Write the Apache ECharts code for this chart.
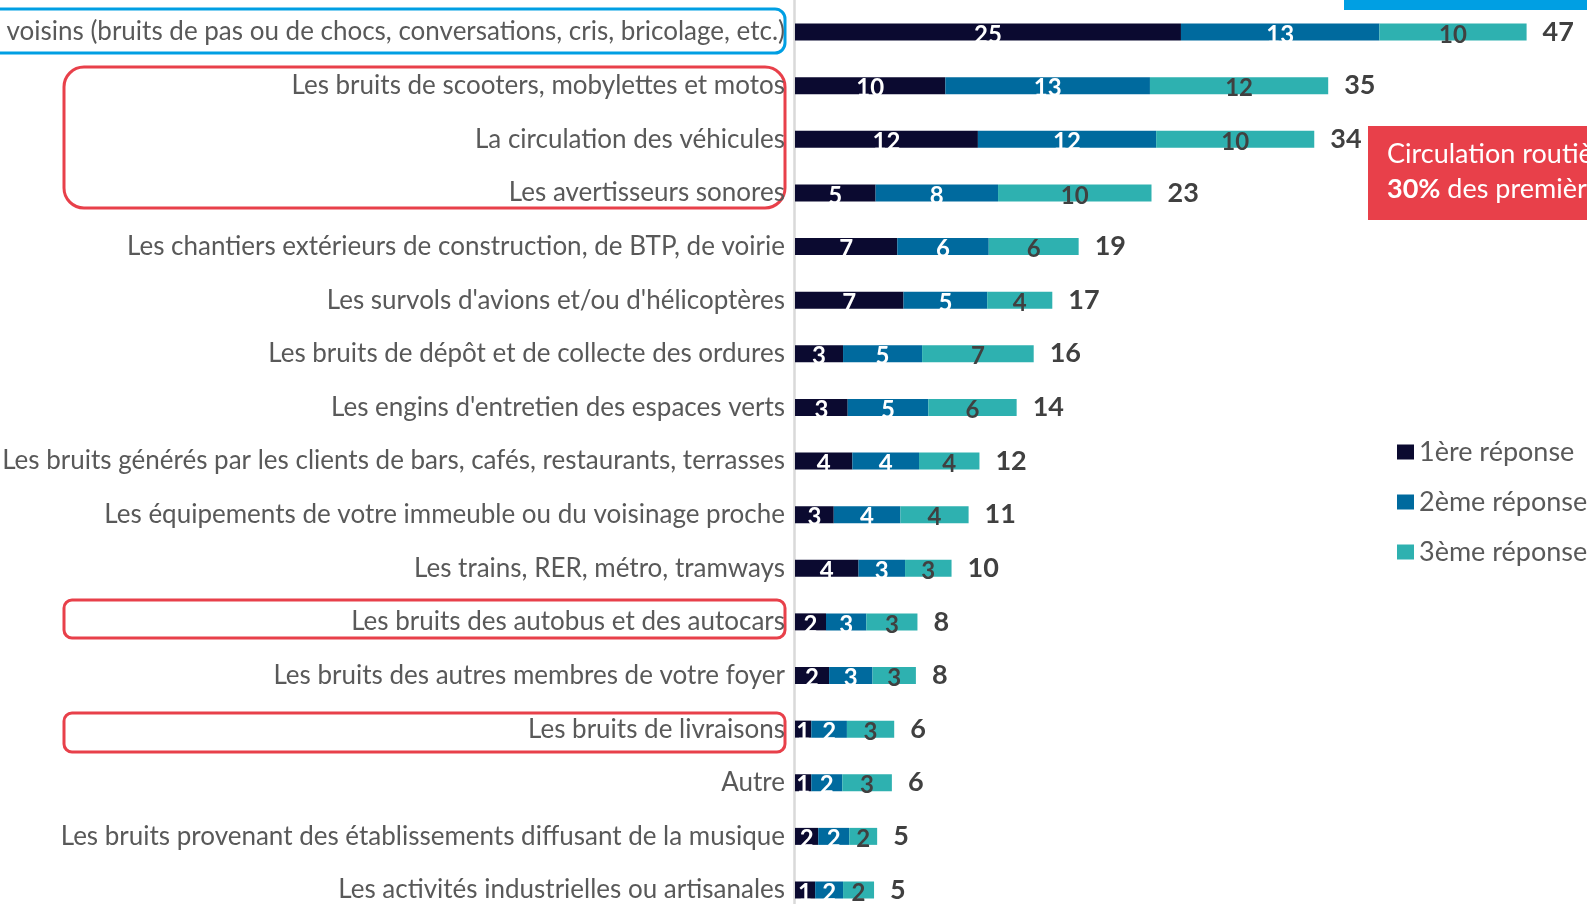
<!DOCTYPE html>
<html><head><meta charset="utf-8">
<script src="https://cdn.jsdelivr.net/npm/echarts@6/dist/echarts.min.js"></script>
<style>html,body{margin:0;padding:0;background:#fff;overflow:hidden}#chart{width:1587px;height:904px;}</style>
</head><body><div id="chart"></div>
<script>
const categories = [
  "Les voisins (bruits de pas ou de chocs, conversations, cris, bricolage, etc.)",
  "Les bruits de scooters, mobylettes et motos",
  "La circulation des véhicules",
  "Les avertisseurs sonores",
  "Les chantiers extérieurs de construction, de BTP, de voirie",
  "Les survols d'avions et/ou d'hélicoptères",
  "Les bruits de dépôt et de collecte des ordures",
  "Les engins d'entretien des espaces verts",
  "Les bruits générés par les clients de bars, cafés, restaurants, terrasses",
  "Les équipements de votre immeuble ou du voisinage proche",
  "Les trains, RER, métro, tramways",
  "Les bruits des autobus et des autocars",
  "Les bruits des autres membres de votre foyer",
  "Les bruits de livraisons",
  "Autre",
  "Les bruits provenant des établissements diffusant de la musique",
  "Les activités industrielles ou artisanales"
];
const seriesNames = ["1ère réponse", "2ème réponse", "3ème réponse"];
const first  = [24.9, 9.7, 11.8, 5.2, 6.6, 7.0, 3.1, 3.4, 3.7, 2.5, 4.1, 2.0, 2.2, 1.05, 1.05, 1.5, 1.3];
const second = [12.8, 13.2, 11.5, 7.9, 5.9, 5.4, 5.1, 5.2, 4.3, 4.3, 3.0, 2.6, 2.8, 2.3, 2.0, 2.0, 1.8];
const third  = [9.5, 11.5, 10.2, 9.9, 5.8, 4.2, 7.2, 5.7, 3.9, 4.4, 3.0, 3.3, 2.8, 3.05, 3.2, 1.8, 2.0];
const totals = [47, 35, 34, 23, 19, 17, 16, 14, 12, 11, 10, 8, 8, 6, 6, 5, 5];

const colors = ["#0b0a30", "#006a9e", "#2eb1b0"];
const FONT = "Lato";

const chart = echarts.init(document.getElementById('chart'), null, {renderer: 'canvas'});

function segSeries(name, data, color, labelColor) {
  return {
    name: name, type: 'bar', stack: 'all', data: data, barWidth: 17,
    itemStyle: {color: color},
    label: {
      show: true, position: 'inside', offset: [0, 3],
      formatter: p => String(Math.round(p.value)),
      color: labelColor, fontFamily: FONT, fontWeight: 'bold', fontSize: 24
    }
  };
}

chart.setOption({
  animation: false,
  backgroundColor: '#ffffff',
  color: colors,
  grid: {left: 795, right: 17, top: 32, height: 858, containLabel: false, outerBoundsMode: 'none'},
  xAxis: {type: 'value', min: 0, max: 50, show: false},
  yAxis: {
    type: 'category', data: categories, inverse: true, boundaryGap: false,
    axisTick: {show: false},
    axisLine: {show: false},
    axisLabel: {color: '#595959', fontFamily: FONT, fontSize: 26, margin: 10}
  },
  legend: {
    data: seriesNames, orient: 'vertical', left: 1392, top: 432,
    itemWidth: 17, itemHeight: 15, itemGap: 20, icon: 'rect',
    textStyle: {color: '#595959', fontFamily: FONT, fontSize: 27, lineHeight: 30}
  },
  series: [
    segSeries(seriesNames[0], first, colors[0], '#ffffff'),
    segSeries(seriesNames[1], second, colors[1], '#ffffff'),
    segSeries(seriesNames[2], third, colors[2], '#404040'),
    {
      name: 'Total', type: 'bar', stack: 'all', barWidth: 17,
      data: totals.map(() => 0),
      itemStyle: {color: 'rgba(0,0,0,0)'},
      label: {
        show: true, position: 'right', distance: 16,
        formatter: p => String(totals[p.dataIndex]),
        color: '#404040', fontFamily: FONT, fontWeight: 'bold', fontSize: 27
      }
    }
  ],
  graphic: [
    {type: 'line', shape: {x1: 794.5, y1: 0, x2: 794.5, y2: 904}, style: {stroke: '#d9d9d9', lineWidth: 2.5}, z: 0},
    {type: 'rect', shape: {x: 1344, y: -6, width: 260, height: 16}, style: {fill: '#009fe3'}},
    {type: 'rect', shape: {x: -20, y: 9, width: 805, height: 44, r: 10}, style: {fill: 'none', stroke: '#009fe3', lineWidth: 3}},
    {type: 'rect', shape: {x: 64, y: 67, width: 721, height: 141, r: 20}, style: {fill: 'none', stroke: '#e8404a', lineWidth: 3}},
    {type: 'rect', shape: {x: 64, y: 600, width: 721, height: 38, r: 8}, style: {fill: 'none', stroke: '#e8404a', lineWidth: 3}},
    {type: 'rect', shape: {x: 64, y: 713, width: 721, height: 39, r: 8}, style: {fill: 'none', stroke: '#e8404a', lineWidth: 3}},
    {type: 'rect', shape: {x: 1368, y: 126, width: 240, height: 94}, style: {fill: '#e8404a'}},
    {type: 'text', x: 1387, y: 154, style: {text: 'Circulation routière :', fill: '#ffffff', font: '27px Lato', verticalAlign: 'middle'}},
    {type: 'text', x: 1387, y: 189, style: {text: '{b|30%} des premières réponses', fill: '#ffffff', font: '27px Lato', verticalAlign: 'middle',
      rich: {b: {fontWeight: 'bold', fontFamily: 'Lato', fontSize: 27, fill: '#ffffff'}}}}
  ]
});
</script>
</body></html>
